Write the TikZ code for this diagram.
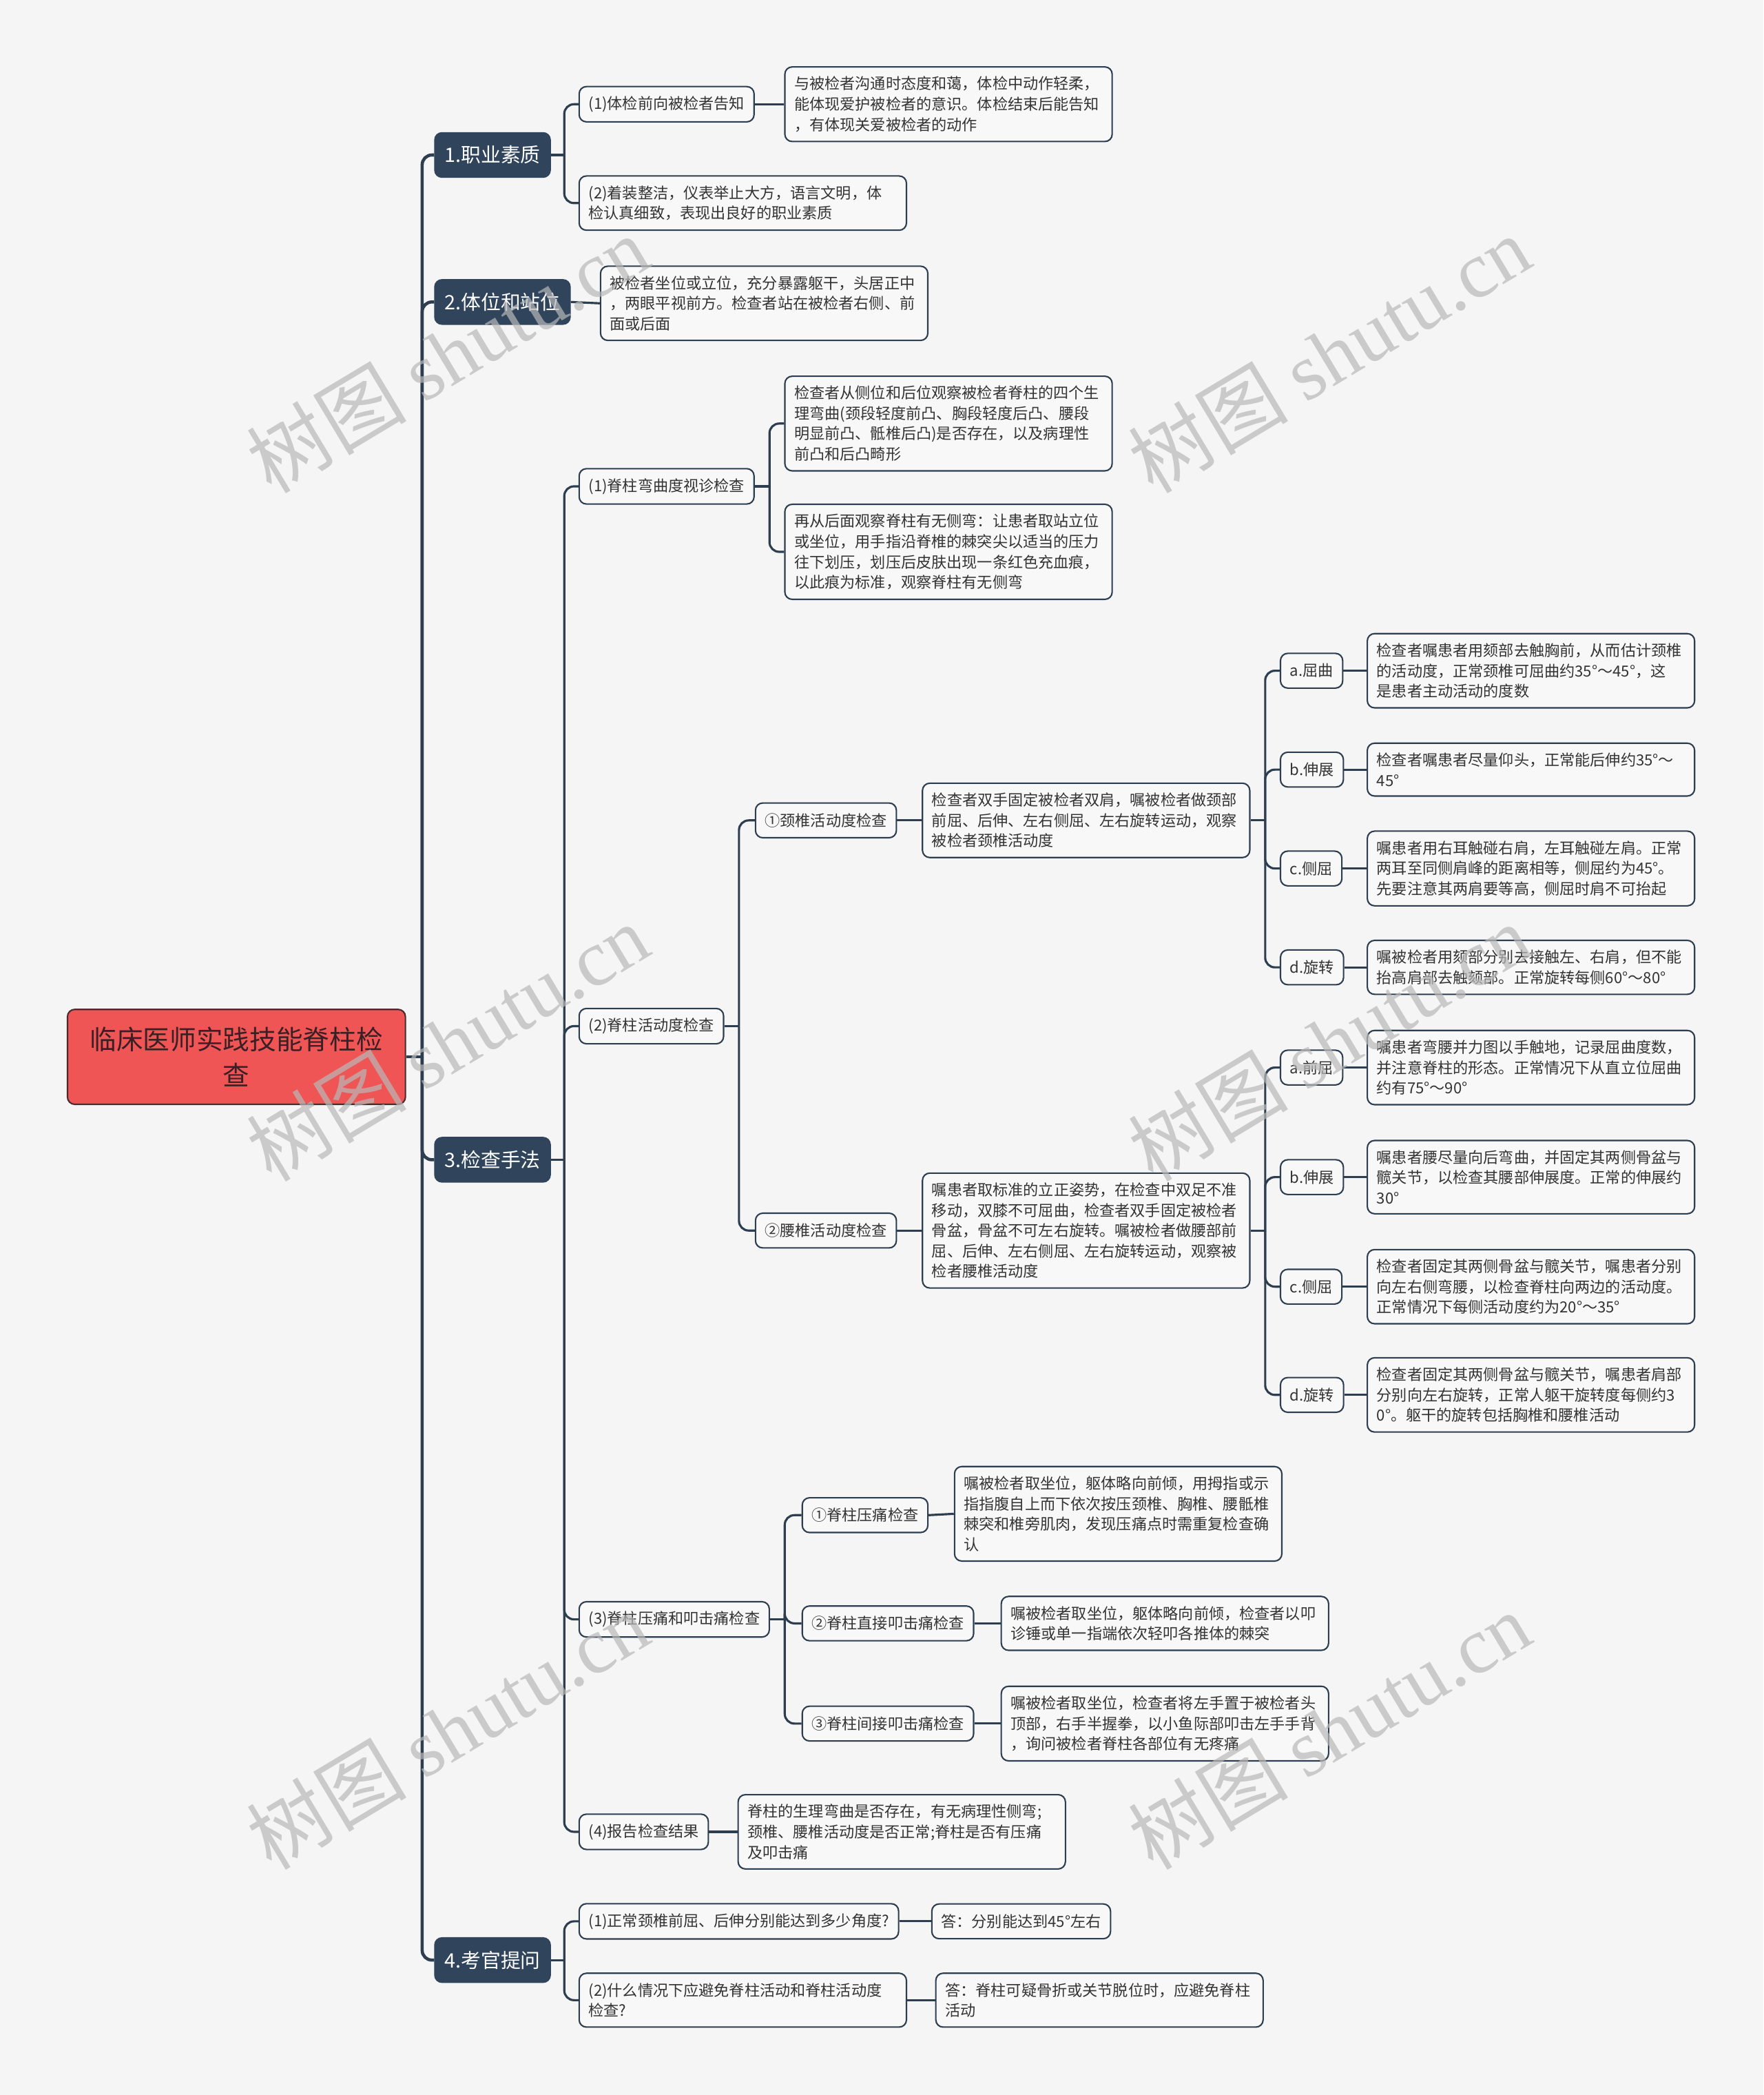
\documentclass[tikz,border=0pt]{standalone}
\usepackage{fontspec}
\setmainfont{Noto Sans CJK SC}
\newfontfamily\wmserif{Liberation Serif}

\definecolor{bgcol}{HTML}{F5F5F5}
\definecolor{mainblue}{HTML}{30455C}
\definecolor{lineblue}{HTML}{2C3E50}
\definecolor{boxfill}{HTML}{F8F8F8}
\definecolor{rootred}{HTML}{F05556}
\definecolor{rootline}{HTML}{4A2A2E}
\definecolor{roottext}{HTML}{3A2024}
\definecolor{wmgray}{HTML}{B8B8B8}

\tikzset{
  rootbox/.style={draw=rootline, fill=rootred, rounded corners=3pt, text=roottext,
    font=\fontsize{11}{14.9}\selectfont, minimum width=139.6pt, minimum height=39.2pt,
    text width=128pt, align=center, line width=0.6pt},
  mainbox/.style={draw=mainblue, fill=mainblue, rounded corners=3pt, text=white,
    font=\fontsize{8.2}{10}\selectfont, minimum height=18.5pt, inner xsep=4.1pt, anchor=west},
  subbox/.style={draw=lineblue, fill=boxfill, rounded corners=3pt, text=black!80,
    font=\fontsize{6.3}{8.4}\selectfont, inner xsep=3.9pt, inner ysep=4pt,
    minimum height=14.35pt, anchor=west, line width=0.6pt},
  textbox/.style={subbox, text width=127.4pt, align=left},
  conn/.style={draw=lineblue, line width=0.9pt},
  trunk/.style={draw=lineblue, line width=1.3pt},
  wmark/.style={text=wmgray, text opacity=0.7, rotate=31, font=\fontsize{33}{33}\selectfont},
}

\begin{document}
\begin{tikzpicture}[x=0.019394cm, y=-0.019394cm]
  \fill[bgcol] (0,0) rectangle (1320,1568);
  \useasboundingbox (0,0) rectangle (1320,1568);

  % 中心主题
  \node[rootbox] (root) at (177,791) {临床医师实践技能脊柱检\\查};

  % 一级分支
  \node[mainbox] (zy) at (325,116) {1.职业素质};
  \node[mainbox] (tw) at (325,226) {2.体位和站位};
  \node[mainbox] (jc) at (325,868) {3.检查手法};
  \node[mainbox] (kg) at (325,1467) {4.考官提问};

  % 1.职业素质
  \node[subbox] (zy1) at (433,78) {(1)体检前向被检者告知};
  \node[textbox] (zy1a) at (587,78) {与被检者沟通时态度和蔼，体检中动作轻柔，\\能体现爱护被检者的意识。体检结束后能告知\\，有体现关爱被检者的动作};
  \node[textbox] (zy2) at (433,152) {(2)着装整洁，仪表举止大方，语言文明，体\\检认真细致，表现出良好的职业素质};

  % 2.体位和站位
  \node[textbox] (tw1) at (449,227) {被检者坐位或立位，充分暴露躯干，头居正中\\，两眼平视前方。检查者站在被检者右侧、前\\面或后面};

  % 3.检查手法 (1)
  \node[subbox] (wq) at (433,364) {(1)脊柱弯曲度视诊检查};
  \node[textbox] (wq1) at (587,317) {检查者从侧位和后位观察被检者脊柱的四个生\\理弯曲(颈段轻度前凸、胸段轻度后凸、腰段\\明显前凸、骶椎后凸)是否存在，以及病理性\\前凸和后凸畸形};
  \node[textbox] (wq2) at (587,413) {再从后面观察脊柱有无侧弯：让患者取站立位\\或坐位，用手指沿脊椎的棘突尖以适当的压力\\往下划压，划压后皮肤出现一条红色充血痕，\\以此痕为标准，观察脊柱有无侧弯};

  % 3.检查手法 (2)
  \node[subbox] (hd) at (433,768) {(2)脊柱活动度检查};
  \node[subbox] (jz) at (565,614) {①颈椎活动度检查};
  \node[textbox] (jzt) at (690,614) {检查者双手固定被检者双肩，嘱被检者做颈部\\前屈、后伸、左右侧屈、左右旋转运动，观察\\被检者颈椎活动度};
  \node[subbox] (jza) at (958,502) {a.屈曲};
  \node[textbox] (jzat) at (1023,502) {检查者嘱患者用颏部去触胸前，从而估计颈椎\\的活动度，正常颈椎可屈曲约35°～45°，这\\是患者主动活动的度数};
  \node[subbox] (jzb) at (958,576) {b.伸展};
  \node[textbox] (jzbt) at (1023,576) {检查者嘱患者尽量仰头，正常能后伸约35°～\\45°};
  \node[subbox] (jzc) at (958,650) {c.侧屈};
  \node[textbox] (jzct) at (1023,650) {嘱患者用右耳触碰右肩，左耳触碰左肩。正常\\两耳至同侧肩峰的距离相等，侧屈约为45°。\\先要注意其两肩要等高，侧屈时肩不可抬起};
  \node[subbox] (jzd) at (958,724) {d.旋转};
  \node[textbox] (jzdt) at (1023,724) {嘱被检者用颏部分别去接触左、右肩，但不能\\抬高肩部去触颏部。正常旋转每侧60°～80°};

  \node[subbox] (yz) at (565,921) {②腰椎活动度检查};
  \node[textbox] (yzt) at (690,921) {嘱患者取标准的立正姿势，在检查中双足不准\\移动，双膝不可屈曲，检查者双手固定被检者\\骨盆，骨盆不可左右旋转。嘱被检者做腰部前\\屈、后伸、左右侧屈、左右旋转运动，观察被\\检者腰椎活动度};
  \node[subbox] (yza) at (958,799) {a.前屈};
  \node[textbox] (yzat) at (1023,799) {嘱患者弯腰并力图以手触地，记录屈曲度数，\\并注意脊柱的形态。正常情况下从直立位屈曲\\约有75°～90°};
  \node[subbox] (yzb) at (958,881) {b.伸展};
  \node[textbox] (yzbt) at (1023,881) {嘱患者腰尽量向后弯曲，并固定其两侧骨盆与\\髋关节，以检查其腰部伸展度。正常的伸展约\\30°};
  \node[subbox] (yzc) at (958,963) {c.侧屈};
  \node[textbox] (yzct) at (1023,963) {检查者固定其两侧骨盆与髋关节，嘱患者分别\\向左右侧弯腰，以检查脊柱向两边的活动度。\\正常情况下每侧活动度约为20°～35°};
  \node[subbox] (yzd) at (958,1044) {d.旋转};
  \node[textbox] (yzdt) at (1023,1044) {检查者固定其两侧骨盆与髋关节，嘱患者肩部\\分别向左右旋转，正常人躯干旋转度每侧约3\\0°。躯干的旋转包括胸椎和腰椎活动};

  % 3.检查手法 (3)
  \node[subbox] (yt) at (433,1212) {(3)脊柱压痛和叩击痛检查};
  \node[subbox] (yt1) at (600,1134) {①脊柱压痛检查};
  \node[textbox] (yt1t) at (714,1133) {嘱被检者取坐位，躯体略向前倾，用拇指或示\\指指腹自上而下依次按压颈椎、胸椎、腰骶椎\\棘突和椎旁肌肉，发现压痛点时需重复检查确\\认};
  \node[subbox] (yt2) at (600,1215) {②脊柱直接叩击痛检查};
  \node[textbox] (yt2t) at (749,1215) {嘱被检者取坐位，躯体略向前倾，检查者以叩\\诊锤或单一指端依次轻叩各推体的棘突};
  \node[subbox] (yt3) at (600,1290) {③脊柱间接叩击痛检查};
  \node[textbox] (yt3t) at (749,1290) {嘱被检者取坐位，检查者将左手置于被检者头\\顶部，右手半握拳，以小鱼际部叩击左手手背\\，询问被检者脊柱各部位有无疼痛};

  % 3.检查手法 (4)
  \node[subbox] (bg) at (433,1371) {(4)报告检查结果};
  \node[textbox] (bgt) at (552,1371) {脊柱的生理弯曲是否存在，有无病理性侧弯;\\颈椎、腰椎活动度是否正常;脊柱是否有压痛\\及叩击痛};

  % 4.考官提问
  \node[subbox] (kg1) at (433,1438) {(1)正常颈椎前屈、后伸分别能达到多少角度?};
  \node[subbox] (kg1t) at (697,1438) {答：分别能达到45°左右};
  \node[textbox] (kg2) at (433,1497) {(2)什么情况下应避免脊柱活动和脊柱活动度\\检查?};
  \node[textbox] (kg2t) at (700,1497) {答：脊柱可疑骨折或关节脱位时，应避免脊柱\\活动};

  % 主干连线
  \draw[trunk] (root.east) -- ++(12,0) coordinate (j0);
  \foreach \n in {zy,tw,jc,kg}
    \draw[trunk, rounded corners=4pt] (j0) |- (\n.west);

  % 分支连线
  \draw[conn] (zy.east) -- ++(10,0) coordinate (j1);
  \foreach \n in {zy1,zy2}
    \draw[conn, rounded corners=4pt] (j1) |- (\n.west);
  \draw[conn] (zy1.east) -- (zy1a.west);
  \draw[conn] (tw.east) -- (tw1.west);

  \draw[conn] (jc.east) -- ++(10,0) coordinate (j3);
  \foreach \n in {wq,hd,yt,bg}
    \draw[conn, rounded corners=4pt] (j3) |- (\n.west);

  \draw[conn] (wq.east) -- ++(11,0) coordinate (jwq);
  \foreach \n in {wq1,wq2}
    \draw[conn, rounded corners=4pt] (jwq) |- (\n.west);

  \draw[conn] (hd.east) -- ++(11,0) coordinate (jhd);
  \foreach \n in {jz,yz}
    \draw[conn, rounded corners=4pt] (jhd) |- (\n.west);
  \draw[conn] (jz.east) -- (jzt.west);
  \draw[conn] (yz.east) -- (yzt.west);

  \draw[conn] (jzt.east) -- ++(11,0) coordinate (jjz);
  \foreach \n in {jza,jzb,jzc,jzd}
    \draw[conn, rounded corners=4pt] (jjz) |- (\n.west);
  \draw[conn] (yzt.east) -- ++(11,0) coordinate (jyz);
  \foreach \n in {yza,yzb,yzc,yzd}
    \draw[conn, rounded corners=4pt] (jyz) |- (\n.west);
  \foreach \n in {jza,jzb,jzc,jzd,yza,yzb,yzc,yzd}
    \draw[conn] (\n.east) -- (\n t.west);

  \draw[conn] (yt.east) -- ++(11,0) coordinate (jyt);
  \foreach \n in {yt1,yt2,yt3}
    \draw[conn, rounded corners=4pt] (jyt) |- (\n.west);
  \foreach \n in {yt1,yt2,yt3}
    \draw[conn] (\n.east) -- (\n t.west);
  \draw[conn] (bg.east) -- (bgt.west);

  \draw[conn] (kg.east) -- ++(10,0) coordinate (j4);
  \foreach \n in {kg1,kg2}
    \draw[conn, rounded corners=4pt] (j4) |- (\n.west);
  \draw[conn] (kg1.east) -- (kg1t.west);
  \draw[conn] (kg2.east) -- (kg2t.west);

  % 水印
  \foreach \wx/\wy [count=\i] in {335/265, 995/265, 335/780, 995/780, 335/1295, 995/1295}
    \node[wmark] (wm\i) at (\wx,\wy) {树图 \wmserif shutu.cn};
\end{tikzpicture}
\end{document}
